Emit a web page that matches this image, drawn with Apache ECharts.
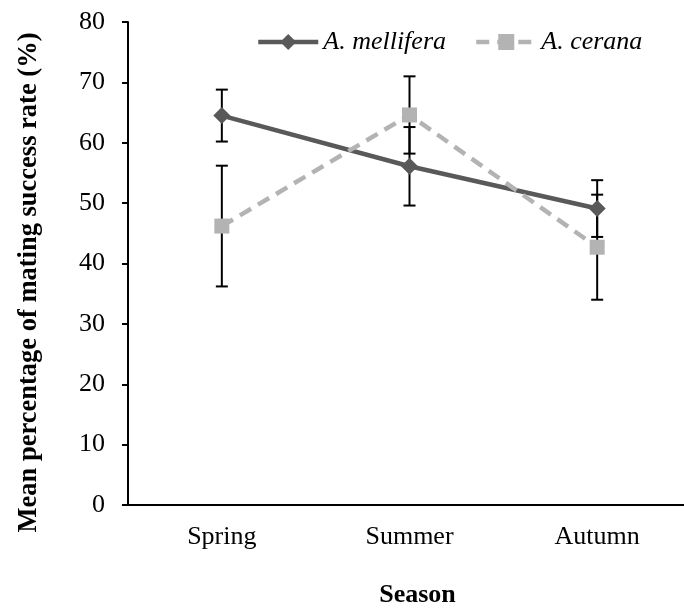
<!DOCTYPE html>
<html>
<head>
<meta charset="utf-8">
<script src="https://cdn.jsdelivr.net/npm/echarts@6/dist/echarts.min.js"></script>
<style>
  html, body { margin: 0; padding: 0; background: #fff; }
  #chart { width: 684px; height: 608px; }
</style>
</head>
<body>
<div id="chart"></div>
<script>
// data
var seasons = ['Spring', 'Summer', 'Autumn'];
var melliferaMean = [64.5, 56.1, 49.1];
var melliferaErr = [4.3, 6.5, 4.7];
var ceranaMean = [46.2, 64.6, 42.7];
var ceranaErr = [10.0, 6.4, 8.7];
var yTicks = [0, 80, 10]; // min, max, step

var FONT = '"Liberation Serif", "Times New Roman", Times, serif';

function barData(mean, err) {
    var out = [];
    for (var i = 0; i < mean.length; i++) {
        out.push([i, mean[i] - err[i], mean[i] + err[i]]);
    }
    return out;
}

// black whisker with caps
function renderErr(params, api) {
    var x = api.value(0);
    var lo = api.coord([x, api.value(1)]);
    var hi = api.coord([x, api.value(2)]);
    var half = 6;
    var st = { stroke: '#000', lineWidth: 2 };
    return {
        type: 'group',
        children: [
            { type: 'line', shape: { x1: lo[0], y1: lo[1], x2: hi[0], y2: hi[1] }, style: st },
            { type: 'line', shape: { x1: hi[0] - half, y1: hi[1], x2: hi[0] + half, y2: hi[1] }, style: st },
            { type: 'line', shape: { x1: lo[0] - half, y1: lo[1], x2: lo[0] + half, y2: lo[1] }, style: st }
        ]
    };
}

var chart = echarts.init(document.getElementById('chart'));
chart.setOption({
    backgroundColor: '#fff',
    animation: false,
    textStyle: { fontFamily: FONT },
    legend: {
        left: 251,
        top: 24,
        itemWidth: 60,
        itemHeight: 20,
        itemGap: 28,
        data: [
            { name: 'A. mellifera', lineStyle: { width: 4.5 } },
            { name: 'A. cerana', lineStyle: { width: 4.5 } }
        ],
        textStyle: { fontFamily: FONT, fontStyle: 'italic', fontSize: 26, color: '#000' }
    },
    grid: { left: 128, right: -7, top: 22, bottom: 103, outerBoundsMode: 'none' },
    xAxis: {
        type: 'category',
        data: seasons,
        boundaryGap: true,
        name: 'Season',
        nameLocation: 'middle',
        nameGap: 77,
        nameTextStyle: { fontFamily: FONT, fontWeight: 'bold', fontSize: 26, color: '#000', padding: [0, 0, 0, 16] },
        axisLine: { lineStyle: { color: '#000', width: 2 } },
        axisTick: { alignWithLabel: true, length: 5, lineStyle: { color: '#000', width: 2 } },
        axisLabel: { fontFamily: FONT, fontSize: 26, color: '#000', margin: 19 },
        splitLine: { show: false }
    },
    yAxis: {
        type: 'value',
        min: yTicks[0],
        max: yTicks[1],
        interval: yTicks[2],
        name: 'Mean percentage of mating success rate (%)',
        nameLocation: 'middle',
        nameGap: 85,
        nameTextStyle: { fontFamily: FONT, fontWeight: 'bold', fontSize: 26.5, color: '#000', padding: [0, 38, 0, 0] },
        axisLine: { show: true, lineStyle: { color: '#000', width: 2 } },
        axisTick: { show: true, length: 6, lineStyle: { color: '#000', width: 2 } },
        axisLabel: { fontFamily: FONT, fontSize: 26, color: '#000', margin: 23 },
        splitLine: { show: false }
    },
    series: [
        {
            type: 'custom',
            name: 'err1',
            z: 1,
            renderItem: renderErr,
            data: barData(melliferaMean, melliferaErr)
        },
        {
            type: 'custom',
            name: 'err2',
            z: 1,
            renderItem: renderErr,
            data: barData(ceranaMean, ceranaErr)
        },
        {
            name: 'A. mellifera',
            type: 'line',
            z: 3,
            data: melliferaMean,
            symbol: 'diamond',
            symbolSize: 17,
            itemStyle: { color: '#595959' },
            lineStyle: { color: '#595959', width: 4.5 }
        },
        {
            name: 'A. cerana',
            type: 'line',
            z: 4,
            data: ceranaMean,
            symbol: 'rect',
            symbolSize: 15,
            itemStyle: { color: '#b3b3b3' },
            lineStyle: { color: '#b3b3b3', width: 4.5, type: [13, 8] }
        }
    ]
});
</script>
</body>
</html>
